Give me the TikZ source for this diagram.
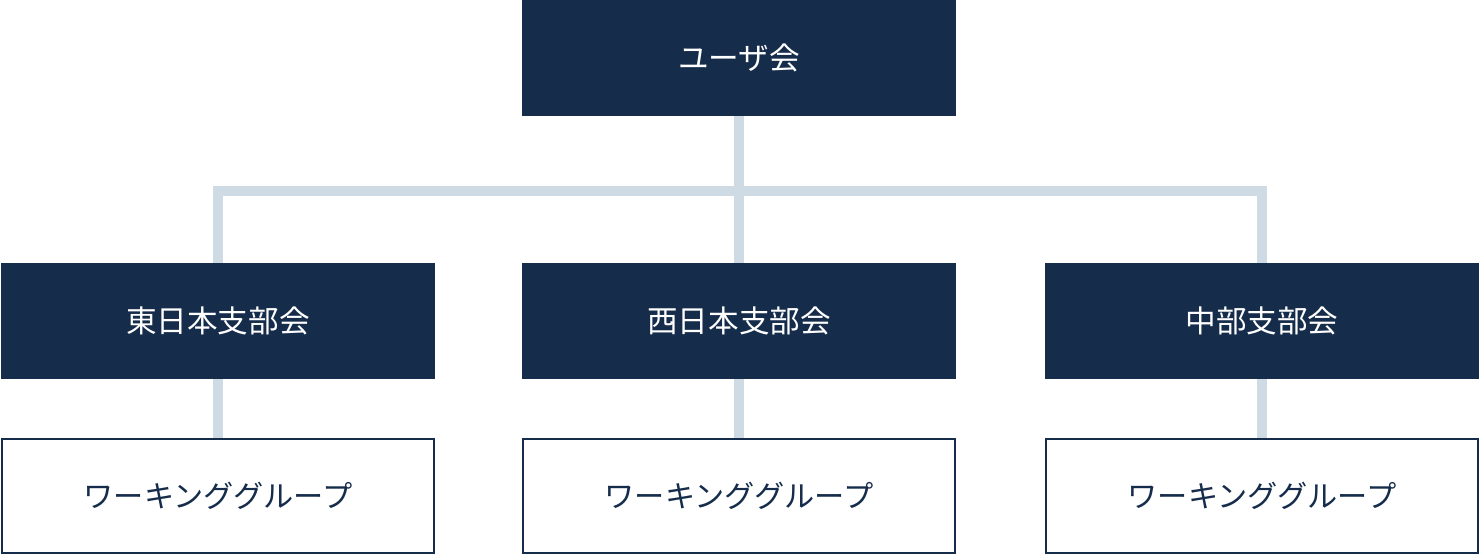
\documentclass[tikz,border=0pt]{standalone}
\usepackage{fontspec}
\newfontfamily\jpfont{Noto Sans CJK JP}
\definecolor{navy}{HTML}{152C4B}
\definecolor{linkgray}{HTML}{CEDBE4}
\tikzset{
  unit/.style={rectangle,fill=navy,text=white,minimum width=217pt,minimum height=58pt,inner sep=0pt,font=\jpfont\fontsize{15.3pt}{17pt}\selectfont},
  group/.style={rectangle,draw=navy,line width=1pt,fill=white,text=navy,minimum width=216pt,minimum height=57pt,inner sep=0pt,font=\jpfont\fontsize{15.1pt}{17pt}\selectfont},
  link/.style={draw=linkgray,line width=5pt}
}
\begin{document}
\begin{tikzpicture}[x=0.5pt,y=0.5pt]
      \useasboundingbox (0,0) rectangle (1480,-556);
      \begin{scope}
        \node[unit] (users) at (739,-58) {ユーザ会};
        \node[unit] (higashi) at (218,-321) {東日本支部会};
        \node[unit] (nishi) at (739,-321) {西日本支部会};
        \node[unit] (chubu) at (1262,-321) {中部支部会};
        \node[group] (wg1) at (218,-496) {ワーキンググループ};
        \node[group] (wg2) at (739,-496) {ワーキンググループ};
        \node[group] (wg3) at (1262,-496) {ワーキンググループ};
        \coordinate (bar) at (739,-191);
      \end{scope}
      \draw[link] (users.south) -- (nishi.north);
      \draw[link] (higashi.north) |- (bar) -| (chubu.north);
      \draw[link] (higashi.south) -- (wg1.north);
      \draw[link] (nishi.south) -- (wg2.north);
      \draw[link] (chubu.south) -- (wg3.north);
  \end{tikzpicture}
\end{document}
